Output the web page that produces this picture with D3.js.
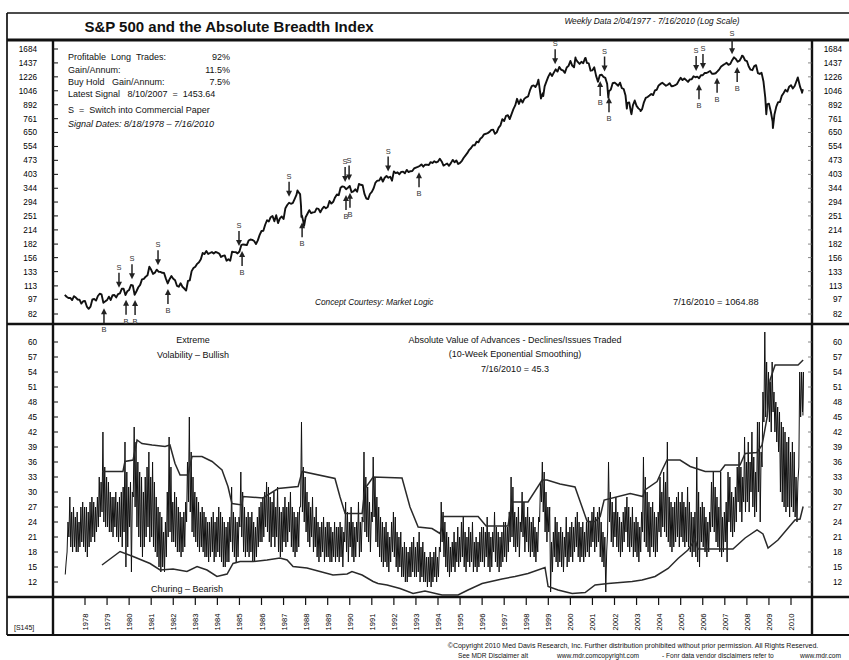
<!DOCTYPE html>
<html><head><meta charset="utf-8">
<script src="https://cdn.jsdelivr.net/npm/d3@7"></script>
<style>
body{margin:0;background:#fff;}
svg{display:block;font-family:"Liberation Sans",Arial,Helvetica,sans-serif;}
text{white-space:pre;}
</style></head><body>
<svg id="c" width="849" height="660"></svg>
<script>
// ---------------- DATA ----------------
// S&P 500 month-end closes, Jan 1977 .. Jun 2010
const spxStartYear = 1977;
const spxMonthEnd = [
102.03,99.82,98.42,98.44,96.12,100.48,98.85,96.77,96.53,92.34,94.83,95.10,
89.25,87.04,89.21,96.83,97.24,95.53,100.68,103.29,102.54,93.15,94.70,96.11,
99.93,96.28,101.59,101.76,99.08,102.91,103.81,109.32,109.32,101.82,106.16,107.94,
114.16,113.66,102.09,106.29,111.24,114.24,121.67,122.38,125.46,127.47,140.52,135.76,
129.55,131.27,136.00,132.81,132.59,131.21,130.92,122.79,116.18,121.89,126.35,122.55,
120.40,113.11,111.96,116.44,111.88,109.61,107.09,119.51,120.42,133.71,138.54,140.64,
145.30,148.06,152.96,164.42,162.39,168.11,162.56,164.40,166.07,163.55,166.40,164.93,
163.41,157.06,159.18,160.05,150.55,153.18,150.66,166.68,166.10,166.09,163.58,167.24,
179.63,181.18,180.66,179.83,189.55,191.85,190.92,188.63,182.08,189.82,202.17,211.28,
211.78,226.92,238.90,235.52,247.35,250.84,236.12,252.93,231.32,243.98,249.22,242.17,
274.08,284.20,291.70,288.36,290.10,304.00,318.66,329.80,321.83,251.79,230.30,247.08,
257.07,267.82,258.89,261.33,262.16,273.50,272.02,261.52,271.91,278.97,273.70,277.72,
297.47,288.86,294.87,309.64,320.52,317.98,346.08,351.45,349.15,340.36,345.99,353.40,
329.08,331.89,339.94,330.80,361.23,358.02,356.15,322.56,306.05,304.00,322.22,330.22,
343.93,367.07,375.22,375.34,389.83,371.16,387.81,395.43,387.86,392.46,375.22,417.09,
408.79,412.70,403.69,414.95,415.35,408.14,424.21,414.03,417.80,418.68,431.35,435.71,
438.78,443.38,451.67,440.19,450.19,450.53,448.13,463.56,458.93,467.83,461.79,466.45,
481.61,467.14,445.77,450.91,456.50,444.27,458.26,475.49,462.69,472.35,453.69,459.27,
470.42,487.39,500.71,514.71,533.40,544.75,562.06,561.88,584.41,581.50,605.37,615.93,
636.02,640.43,645.50,654.17,669.12,670.63,639.95,651.99,687.31,705.27,757.02,740.74,
786.16,790.82,757.12,801.34,848.28,885.14,954.29,899.47,947.28,914.62,955.40,970.43,
980.28,1049.34,1101.75,1111.75,1090.82,1133.84,1120.67,957.28,1017.01,1098.67,1163.63,1229.23,
1279.64,1238.33,1286.37,1335.18,1301.84,1372.71,1328.72,1320.41,1282.71,1362.93,1388.91,1469.25,
1394.46,1366.42,1498.58,1452.43,1420.60,1454.60,1430.83,1517.68,1436.51,1429.40,1314.95,1320.28,
1366.01,1239.94,1160.33,1249.46,1255.82,1224.42,1211.23,1133.58,1040.94,1059.78,1139.45,1148.08,
1130.20,1106.73,1147.39,1076.92,1067.14,989.82,911.62,916.07,815.28,885.76,936.31,879.82,
855.70,841.15,848.18,916.92,963.59,974.50,990.31,1008.01,995.97,1050.71,1058.20,1111.92,
1131.13,1144.94,1126.21,1107.30,1120.68,1140.84,1101.72,1104.24,1114.58,1130.20,1173.82,1211.92,
1181.27,1203.60,1180.59,1156.85,1191.50,1191.33,1234.18,1220.33,1228.81,1207.01,1249.48,1248.29,
1280.08,1280.66,1294.87,1310.61,1270.09,1270.20,1276.66,1303.82,1335.85,1377.94,1400.63,1418.30,
1438.24,1406.82,1420.86,1482.37,1530.62,1503.35,1455.27,1473.99,1526.75,1549.38,1481.14,1468.36,
1378.55,1330.63,1322.70,1385.59,1400.38,1280.00,1267.38,1282.83,1166.36,968.75,896.24,903.25,
825.88,735.09,797.87,872.81,919.14,919.32,987.48,1020.62,1057.08,1036.19,1095.63,1115.10,
1073.87,1104.49,1169.43,1186.69,1089.41,1030.71
];
// notable weekly closes between month ends [year, value]
const spxWeeklyExtremes = [
[1987.63,335.9],[1987.79,282.7],[1987.81,248.2],[1987.93,223.9],
[1998.55,1186.8],[1998.77,984.4],[2000.23,1527.5],[2000.69,1520.8],
[2001.72,965.8],[2002.56,852.8],[2002.77,800.6],[2003.18,828.9],
[2007.78,1561.8],[2008.88,800.0],[2009.18,683.4],[2010.31,1217.3],[2010.50,1022.6]
];
const spxLatest = [2010.54, 1064.88];

const sellSignals = [1979.54,1980.13,1981.31,1984.98,1987.25,1989.79,1989.97,1991.74,1999.31,2001.55,2005.70,2006.01,2007.33];
const buySignals  = [1978.86,1979.86,1980.27,1981.76,1985.12,1987.84,1989.83,1990.01,1993.14,2001.35,2001.75,2005.83,2006.65,2007.56];

const spxTicks = [1684,1437,1226,1046,892,761,650,554,473,403,344,294,251,214,182,156,133,113,97,82];
const breadthTicks = [60,57,54,51,48,45,42,39,36,33,30,27,24,21,18,15,12];
const yearTicks = [1978,1979,1980,1981,1982,1983,1984,1985,1986,1987,1988,1989,1990,1991,1992,1993,1994,1995,1996,1997,1998,1999,2000,2001,2002,2003,2004,2005,2006,2007,2008,2009,2010];

// Absolute breadth index: monthly low / high readings, Feb 1977 .. Jul 2010
const breadthLo = [
13.5,18,21,19,18,19,18,18,19,20,19,
18,17,19,20,21,20,22,23,25,26,24,23,
23,22,22,21,23,21,20,21,19,22,15,19,
23,14,29,27,23,21,19,17,19,21,23,20,
21,19,18,17,15,14,15,14,17,21,22,20,
20,19,18,18,17,18,19,24,28,26,22,21,
20,19,18,19,18,17,17,16,17,18,16,17,
18,17,16,15,15,16,16,20,18,17,16,17,
23,21,18,17,18,17,18,16,16,17,19,20,
20,21,23,22,20,19,21,19,21,18,17,18,
20,19,20,22,19,18,17,18,19,27,26,24,
22,20,19,21,18,19,17,16,17,18,16,17,
17,16,16,17,16,17,16,17,15,20,18,16,
19,17,16,17,20,17,18,24,22,21,20,18,
24,25,20,19,17,16,15,16,15,14,16,18,
17,15,14,15,13,13,12,12,13,13,14,13,
13,14,12,13,12,12,11,12,11,12,13,12,
13,18,20,17,15,14,13,14,15,14,16,15,
16,17,15,14,16,15,16,14,15,14,15,16,
16,15,17,15,14,15,18,16,15,14,15,16,
17,16,18,20,21,19,18,19,17,22,21,18,
20,18,17,18,17,16,18,24,28,26,22,20,
22,10,14,17,16,15,16,15,14,17,15,16,
17,16,18,19,17,16,17,16,17,18,17,19,
20,18,19,20,17,16,15,10,22,24,20,19,
21,19,18,17,18,20,22,19,18,19,17,18,
17,16,18,22,20,19,18,17,19,18,17,18,
22,21,23,22,21,20,19,18,19,20,21,19,
21,20,19,20,19,18,17,18,17,16,15,20,
19,18,17,18,22,23,22,20,19,18,17,18,
20,16,24,22,21,22,24,28,26,24,28,26,
28,26,30,27,25,26,30,24,35,44,45,46,
44,42,46,42,40,38,30,28,27,26,27,25,
27,26,25,24,35,45,46
];
const breadthHi = [
16,24,29,26,27,25,26,24,27,28,27,
27,26,28,29,28,27,29,33,32,42,35,33,
32,30,29,29,30,28,29,30,31,40,34,31,
32,30,43,40,36,34,33,30,33,35,38,33,
36,32,29,27,26,25,22,24,30,41,35,28,
30,29,27,26,25,26,28,36,45,38,33,30,
29,28,26,27,26,25,24,24,25,26,24,25,
27,26,25,24,23,24,25,31,26,25,24,25,
34,30,27,25,26,25,26,24,23,25,27,28,
29,30,32,31,29,28,30,27,31,27,26,27,
29,27,28,30,27,26,25,26,27,44,35,33,
30,28,27,29,25,27,24,23,24,25,23,24,
24,23,22,24,23,23,24,23,22,28,26,24,
27,24,23,24,28,24,25,38,33,31,28,26,
37,33,29,27,25,24,23,24,22,21,24,26,
25,22,21,22,19,20,19,18,19,20,21,19,
20,22,19,20,18,17,17,18,17,18,19,17,
19,28,26,24,22,21,19,20,22,20,23,21,
24,25,22,21,23,22,24,20,21,20,22,23,
23,22,25,22,21,22,26,23,22,21,22,24,
24,23,26,33,31,26,25,27,24,30,28,25,
27,25,24,25,23,22,25,32,36,34,30,27,
27,20,22,25,24,22,23,22,21,25,22,23,
24,23,25,26,24,23,24,22,24,25,24,26,
27,25,26,27,24,22,21,18,36,30,28,26,
29,26,25,24,26,27,29,27,25,27,24,25,
24,23,26,37,33,30,28,27,28,26,25,26,
33,30,34,32,40,29,28,27,28,29,30,28,
30,28,27,31,28,26,25,26,37,30,27,28,
27,25,24,26,32,34,31,29,27,34,25,26,
28,34,33,30,29,31,35,38,35,33,41,36,
40,36,42,37,34,44,44,38,50,62,56,54,
52,56,50,48,47,46,44,43,42,40,41,38,
40,38,33,32,54,54,54
];
const breadthLatest = [2010.54, 45.3];

// upper and lower envelope bands [year, value]
const upperBand = [
[1978.77,34.1],[1979.72,34.1],[1979.81,36.1],[1980.18,36.4],[1980.36,40.4],[1980.58,39.7],[1981.04,39.4],
[1981.63,39.1],[1981.85,39.4],[1982.08,35.7],[1982.31,33.4],[1982.67,33.4],[1982.85,37.1],[1983.30,37.1],
[1983.76,36.1],[1984.21,34.4],[1984.48,31.1],[1984.66,27.7],[1985.12,27.4],[1985.16,29.1],[1986.07,28.8],
[1986.75,30.7],[1987.66,31.1],[1987.84,34.1],[1989.33,32.7],[1989.56,29.0],[1989.79,25.7],[1990.56,25.7],
[1990.69,30.7],[1991.06,33.0],[1992.37,32.8],[1992.73,27.0],[1993.10,23.0],[1993.73,22.7],[1994.09,21.7],
[1994.18,23.0],[1994.23,25.1],[1995.82,25.1],[1996.18,23.2],[1997.17,23.2],[1997.36,28.0],[1998.08,28.0],
[1998.72,32.4],[1998.94,32.4],[1999.53,31.6],[2000.21,31.0],[2000.53,27.0],[2000.76,24.1],[2001.12,24.1],
[2001.35,25.1],[2001.53,28.4],[2002.71,29.7],[2003.29,29.1],[2003.38,30.4],[2003.93,32.1],[2004.16,34.4],
[2004.38,36.4],[2004.97,36.4],[2005.43,35.1],[2006.11,34.1],[2006.79,34.1],[2007.01,35.4],[2007.69,35.4],
[2007.92,37.7],[2008.46,37.9],[2008.69,39.4],[2008.92,45.0],[2009.05,52.4],[2009.28,55.4],[2010.32,55.4],
[2010.55,56.4]
];
const lowerBand = [
[1978.77,15.4],[1979.59,18.1],[1980.18,17.1],[1980.95,15.7],[1981.40,14.4],[1981.99,14.6],[1982.62,14.1],
[1983.08,15.1],[1983.53,14.4],[1983.98,13.1],[1984.44,13.6],[1984.71,15.7],[1985.03,16.1],[1985.62,16.1],
[1986.25,16.4],[1986.84,16.8],[1987.16,16.4],[1987.43,15.1],[1988.06,14.8],[1988.65,14.1],[1989.24,13.4],
[1989.88,13.6],[1990.10,14.1],[1990.56,13.4],[1991.06,12.1],[1991.28,11.7],[1991.69,11.4],[1992.28,10.7],
[1992.87,9.7],[1993.41,10.2],[1994.18,9.4],[1994.91,9.4],[1995.36,10.4],[1996.00,11.7],[1996.90,12.6],
[1997.49,13.1],[1998.08,13.7],[1998.85,14.9],[1998.99,11.1],[1999.44,10.4],[2000.08,9.7],[2000.67,9.9],
[2001.12,11.4],[2001.71,11.7],[2002.80,12.1],[2003.25,12.4],[2003.84,13.1],[2004.43,14.7],[2004.88,16.7],
[2005.33,18.4],[2005.65,20.5],[2005.78,18.6],[2007.37,18.6],[2007.92,20.8],[2008.46,22.4],[2008.73,21.6],
[2008.96,18.8],[2009.41,20.4],[2009.87,22.8],[2010.18,24.4],[2010.41,24.6],[2010.55,27.1]
];

// ---------------- LAYOUT ----------------
const svg = d3.select("#c");
const L = {frameL:7, frameT:13, titleB:40, colL:53, colR:812, split:324, axisT:597, frameB:635, W:849};

const x = d3.scaleLinear().domain([1978, 2010]).range([85, 791]);
const yS = d3.scaleLog().domain([82, 1684]).range([314, 49]);
const yB = d3.scaleLinear().domain([12, 60]).range([582, 342]);

// ---------------- FRAME ----------------
const g = svg.append("g");
function hline(y, x1, x2, w){ g.append("line").attr("x1",x1).attr("x2",x2).attr("y1",y).attr("y2",y).attr("stroke","#111").attr("stroke-width",w); }
function vline(xx, y1, y2, w){ g.append("line").attr("x1",xx).attr("x2",xx).attr("y1",y1).attr("y2",y2).attr("stroke","#111").attr("stroke-width",w); }
hline(L.frameT, L.frameL, L.W, 1.7);
vline(L.frameL, L.frameT, L.frameB, 1.7);
hline(L.frameB, L.frameL, L.W, 1.8);
hline(L.titleB, L.frameL, L.W, 2.8);
vline(L.colL, L.titleB, L.frameB, 2.4);
vline(L.colR, L.titleB, L.frameB, 2.4);
hline(L.split, L.frameL, L.W, 2.4);
hline(L.axisT, L.frameL, L.W, 2.4);

// ---------------- AXES ----------------
const tickFont = 8.2;
spxTicks.forEach(v=>{
  const yy = yS(v);
  g.append("line").attr("x1",L.colL).attr("x2",L.colL+5).attr("y1",yy).attr("y2",yy).attr("stroke","#222").attr("stroke-width",1.1);
  g.append("line").attr("x1",L.colR-4).attr("x2",L.colR).attr("y1",yy).attr("y2",yy).attr("stroke","#666").attr("stroke-width",0.8);
  g.append("text").attr("x",37).attr("y",yy+3).attr("text-anchor","end").attr("font-size",tickFont).text(v);
  g.append("text").attr("x",842).attr("y",yy+3).attr("text-anchor","end").attr("font-size",tickFont).text(v);
});
breadthTicks.forEach(v=>{
  const yy = yB(v);
  g.append("line").attr("x1",L.colL).attr("x2",L.colL+5).attr("y1",yy).attr("y2",yy).attr("stroke","#222").attr("stroke-width",1.1);
  g.append("line").attr("x1",L.colR-4).attr("x2",L.colR).attr("y1",yy).attr("y2",yy).attr("stroke","#666").attr("stroke-width",0.8);
  g.append("text").attr("x",37).attr("y",yy+3).attr("text-anchor","end").attr("font-size",tickFont).text(v);
  g.append("text").attr("x",842).attr("y",yy+3).attr("text-anchor","end").attr("font-size",tickFont).text(v);
});
yearTicks.forEach(yr=>{
  const xx = x(yr);
  g.append("line").attr("x1",xx).attr("x2",xx).attr("y1",L.axisT).attr("y2",L.axisT+8).attr("stroke","#111").attr("stroke-width",1.2);
  g.append("text").attr("transform",`translate(${xx+3},622) rotate(-90)`).attr("text-anchor","middle").attr("font-size",7.6).text(yr);
});

// ---------------- S&P LINE ----------------
const spxPoints = spxMonthEnd.map((v,i)=>[spxStartYear + (i+1)/12, v])
  .concat(spxWeeklyExtremes).concat([spxLatest]).sort((a,b)=>a[0]-b[0]);
g.append("path").datum(spxPoints)
  .attr("d", d3.line().x(d=>x(d[0])).y(d=>yS(d[1])))
  .attr("fill","none").attr("stroke","#111").attr("stroke-width",1.9).attr("stroke-linejoin","round");

function spxAt(t){
  const i = d3.bisector(d=>d[0]).left(spxPoints, t);
  const a = spxPoints[Math.max(0,i-1)], b = spxPoints[Math.min(spxPoints.length-1,i)];
  if (a[0]===b[0]) return a[1];
  const f = (t-a[0])/(b[0]-a[0]);
  return Math.exp(Math.log(a[1]) + f*(Math.log(b[1])-Math.log(a[1])));
}
const sig = svg.append("g");
sellSignals.forEach(t=>{
  const xx = x(t), yl = yS(spxAt(t));
  const tip = yl-6;
  sig.append("line").attr("x1",xx).attr("x2",xx).attr("y1",yl-21).attr("y2",tip-4).attr("stroke","#222").attr("stroke-width",1.5);
  sig.append("path").attr("d",`M${xx-3},${tip-6}L${xx+3},${tip-6}L${xx},${tip}Z`).attr("fill","#222");
  sig.append("text").attr("x",xx).attr("y",yl-24).attr("text-anchor","middle").attr("font-size",7.5).attr("fill","#333").text("S");
});
buySignals.forEach(t=>{
  const xx = x(t), yl = yS(spxAt(t));
  const tip = yl+6;
  sig.append("line").attr("x1",xx).attr("x2",xx).attr("y1",yl+21).attr("y2",tip+4).attr("stroke","#222").attr("stroke-width",1.5);
  sig.append("path").attr("d",`M${xx-3},${tip+6}L${xx+3},${tip+6}L${xx},${tip}Z`).attr("fill","#222");
  sig.append("text").attr("x",xx).attr("y",yl+30).attr("text-anchor","middle").attr("font-size",7.5).attr("fill","#333").text("B");
});

// ---------------- BREADTH ----------------
const breadthPts = [];
breadthLo.forEach((lo,i)=>{
  const m = spxStartYear + (i+1)/12;
  breadthPts.push([m + 0.25/12, lo]);
  breadthPts.push([m + 0.75/12, breadthHi[i]]);
});
breadthPts.push(breadthLatest);
const bLine = d3.line().x(d=>x(d[0])).y(d=>yB(d[1]));
g.append("path").datum(breadthPts).attr("d",bLine).attr("fill","none").attr("stroke","#111").attr("stroke-width",1.0);
g.append("path").datum(upperBand).attr("d",bLine).attr("fill","none").attr("stroke","#2a2a2a").attr("stroke-width",1.5);
g.append("path").datum(lowerBand).attr("d",bLine).attr("fill","none").attr("stroke","#2a2a2a").attr("stroke-width",1.5);

// ---------------- TEXT ----------------
const T = svg.append("g").attr("fill","#111");
T.append("text").attr("x",229).attr("y",32).attr("text-anchor","middle").attr("font-size",15).attr("font-weight","bold").text("S&P 500 and the Absolute Breadth Index");
T.append("text").attr("x",652).attr("y",24).attr("text-anchor","middle").attr("font-size",8.3).attr("font-style","italic").text("Weekly Data 2/04/1977 - 7/16/2010 (Log Scale)");

const info = [
  ["Profitable  Long  Trades:", "92%", 60],
  ["Gain/Annum:", "11.5%", 73],
  ["Buy Hold   Gain/Annum:", "7.5%", 85]
];
info.forEach(r=>{
  T.append("text").attr("x",68).attr("y",r[2]).attr("font-size",9).text(r[0]);
  T.append("text").attr("x",230).attr("y",r[2]).attr("text-anchor","end").attr("font-size",9).text(r[1]);
});
T.append("text").attr("x",68).attr("y",97).attr("font-size",9).text("Latest Signal   8/10/2007  =  1453.64");
T.append("text").attr("x",68).attr("y",113).attr("font-size",9).text("S  =  Switch into Commercial Paper");
T.append("text").attr("x",68).attr("y",127).attr("font-size",9).attr("font-style","italic").text("Signal Dates: 8/18/1978 – 7/16/2010");

T.append("text").attr("x",315).attr("y",305).attr("font-size",8.3).attr("font-style","italic").text("Concept Courtesy: Market Logic");
T.append("text").attr("x",673).attr("y",305).attr("font-size",9.3).text("7/16/2010 = 1064.88");

T.append("text").attr("x",193).attr("y",343).attr("text-anchor","middle").attr("font-size",9).text("Extreme");
T.append("text").attr("x",193).attr("y",358).attr("text-anchor","middle").attr("font-size",9).text("Volability – Bullish");
T.append("text").attr("x",515).attr("y",343).attr("text-anchor","middle").attr("font-size",9).text("Absolute Value of Advances - Declines/Issues Traded");
T.append("text").attr("x",515).attr("y",357).attr("text-anchor","middle").attr("font-size",9).text("(10-Week Eponential Smoothing)");
T.append("text").attr("x",515).attr("y",372).attr("text-anchor","middle").attr("font-size",9).text("7/16/2010 = 45.3");
T.append("text").attr("x",187).attr("y",592).attr("text-anchor","middle").attr("font-size",9).text("Churing – Bearish");

T.append("text").attr("x",14).attr("y",630).attr("font-size",7).text("[S145]");
T.append("text").attr("x",633).attr("y",648).attr("text-anchor","middle").attr("font-size",7).text("©Copyright 2010 Med Davis Research, Inc. Further distribution prohibited without prior permission. All Rights Reserved.");
T.append("text").attr("x",458).attr("y",657.5).attr("font-size",6.6).text("See MDR Disclaimer alt");
T.append("text").attr("x",557).attr("y",657.5).attr("font-size",6.6).text("www.mdr.comcopyright.com");
T.append("text").attr("x",662).attr("y",657.5).attr("font-size",6.6).text("- Fonr data vendor disclaimers refer to");
T.append("text").attr("x",800).attr("y",657.5).attr("font-size",6.6).text("www.mdr.com");
</script>
</body></html>
